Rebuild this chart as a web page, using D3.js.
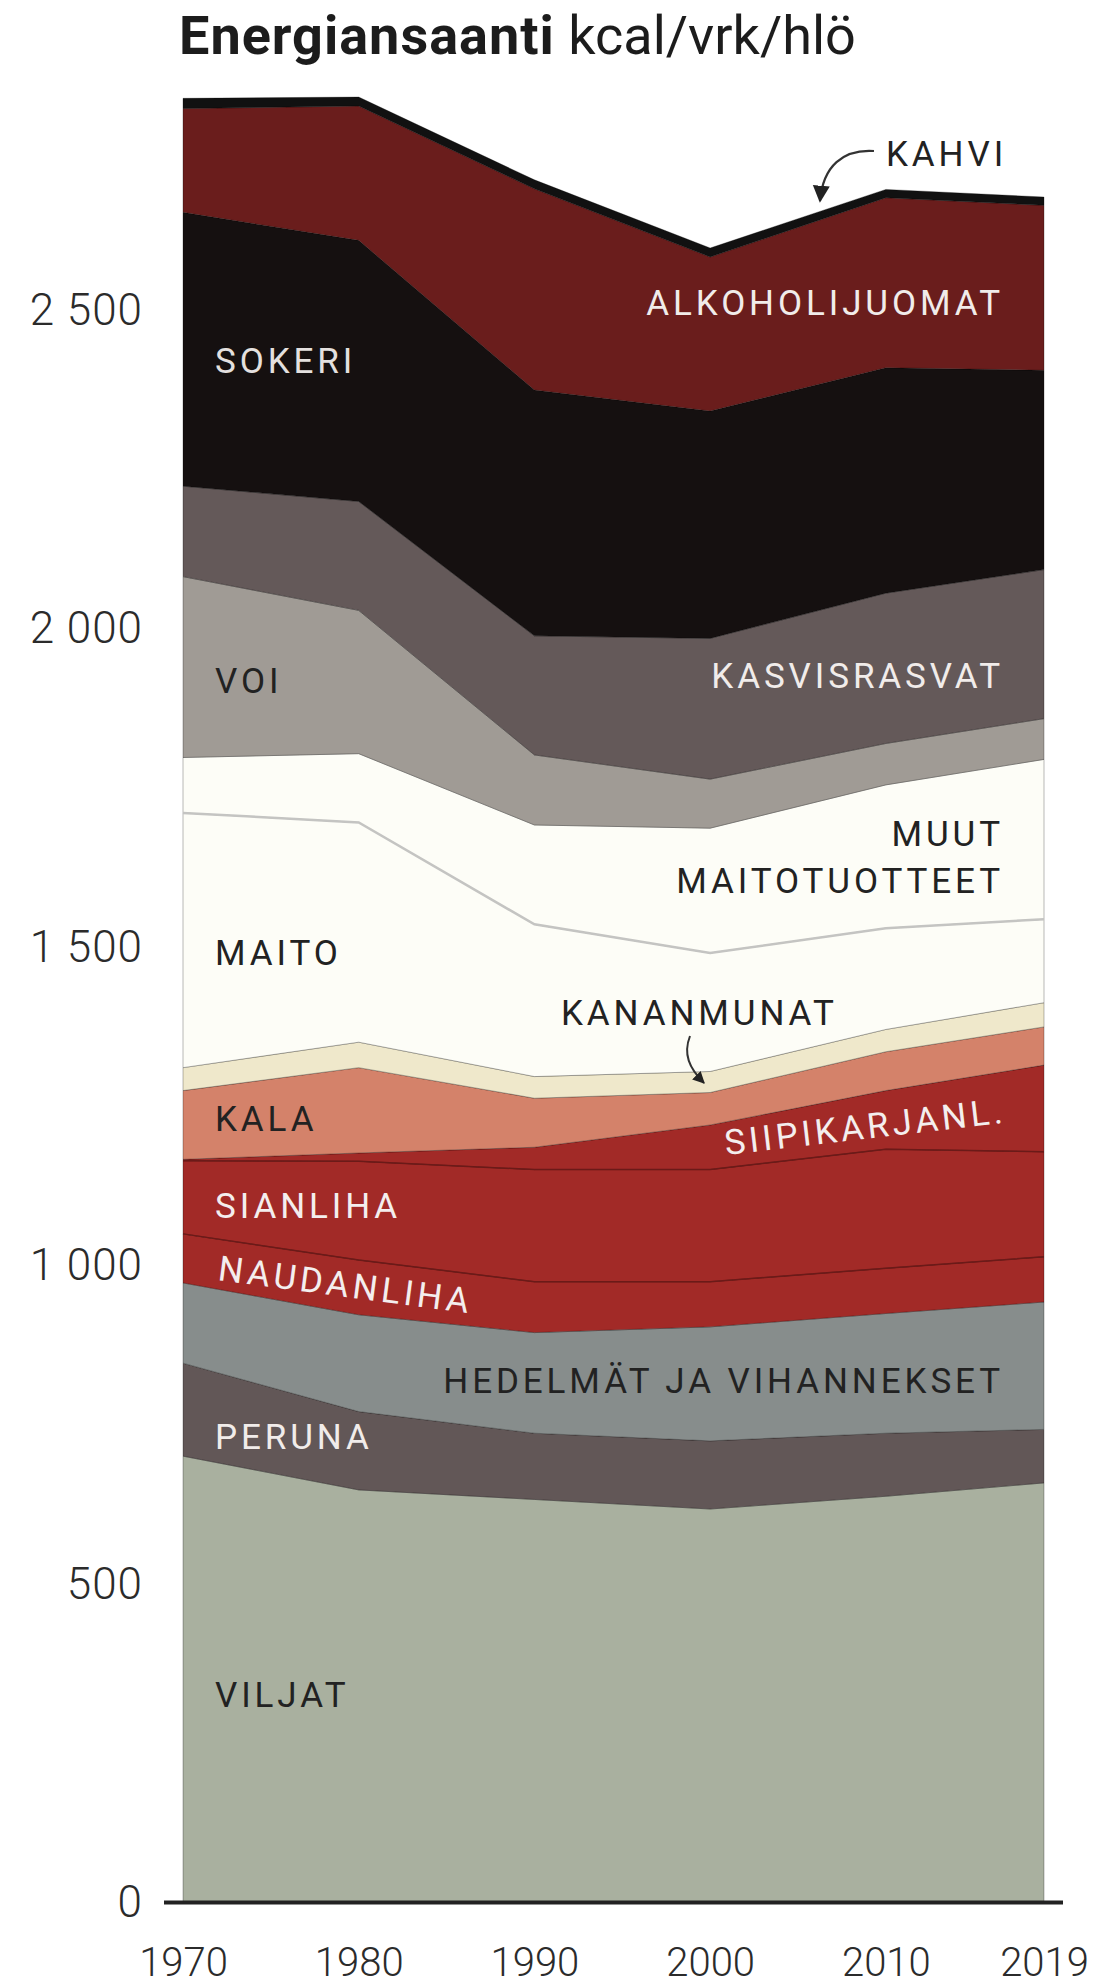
<!DOCTYPE html>
<html>
<head>
<meta charset="utf-8">
<script src="https://cdnjs.cloudflare.com/ajax/libs/d3/7.8.5/d3.min.js"></script>
<style>
body { margin: 0; background: #fff; }
svg { display: block; font-family: Roboto, "Noto Sans", sans-serif; }
.lbl { font-size: 35px; letter-spacing: 3.9px; }
.tick text { font-family: Roboto, sans-serif; }
</style>
</head>
<body>
<svg width="1097" height="1986"></svg>
<script>
// kcal / vrk / hlö, luettu kuvasta
var years = [1970, 1980, 1990, 2000, 2010, 2019];
var viljat       = [701, 648, 633, 618, 638, 659];
var peruna       = [146, 123, 104, 107, 99, 84];
var hedelmat     = [126, 152, 158, 179, 188, 200];
var naudanliha   = [77, 86, 80, 71, 71, 71];
var sianliha     = [115, 155, 176, 176, 187, 165];
var siipikarja   = [2, 13, 35, 70, 92, 136];
var kala         = [108, 134, 77, 51, 61, 60];
var kananmunat   = [36, 40, 34, 33, 35, 38];
var maito        = [400, 345, 239, 186, 159, 131];
var muutMaito    = [87, 108, 156, 196, 225, 251];
var voi          = [284, 225, 110, 77, 65, 64];
var kasvisrasvat = [142, 171, 187, 221, 236, 234];
var sokeri       = [430, 410, 386, 357, 354, 313];
var alkoholi     = [163, 211, 316, 242, 267, 259];
var kahvi        = [16, 14, 14, 14, 13, 13];

var yTicks = [0, 500, 1000, 1500, 2000, 2500];

var keys = ["viljat", "peruna", "hedelmat", "naudanliha", "sianliha", "siipikarja",
    "kala", "kananmunat", "maito", "muutMaito", "voi", "kasvisrasvat", "sokeri", "alkoholi", "kahvi"];
var series = {
    viljat: viljat, peruna: peruna, hedelmat: hedelmat, naudanliha: naudanliha,
    sianliha: sianliha, siipikarja: siipikarja, kala: kala, kananmunat: kananmunat,
    maito: maito, muutMaito: muutMaito, voi: voi, kasvisrasvat: kasvisrasvat,
    sokeri: sokeri, alkoholi: alkoholi, kahvi: kahvi
};
var colors = {
    viljat: "#a9b09f", peruna: "#625757", hedelmat: "#878d8c", naudanliha: "#a22a27",
    sianliha: "#a22a27", siipikarja: "#a22a27", kala: "#d4826a", kananmunat: "#efe8cb",
    maito: "#fdfdf7", muutMaito: "#fdfdf7", voi: "#a09b95", kasvisrasvat: "#645959",
    sokeri: "#151010", alkoholi: "#6a1d1c", kahvi: "#111111"
};

var svg = d3.select("svg"),
    width = +svg.attr("width"),
    height = +svg.attr("height");

var x = d3.scaleLinear().domain([1970, 2019]).range([183, 1044]);
var y = d3.scaleLinear().domain([0, 2500]).range([1902.6, 310.4]);

var table = years.map(function (yr, i) {
    var row = { year: yr };
    keys.forEach(function (k) { row[k] = series[k][i]; });
    return row;
});

var layers = d3.stack().keys(keys)(table);

var area = d3.area()
    .x(function (d) { return x(d.data.year); })
    .y0(function (d) { return y(d[0]); })
    .y1(function (d) { return y(d[1]); });

var lower = d3.line()
    .x(function (d) { return x(d.data.year); })
    .y(function (d) { return y(d[0]); });

svg.append("g")
    .selectAll("path")
    .data(layers)
    .enter().append("path")
    .attr("d", area)
    .attr("fill", function (d) { return colors[d.key]; })
    .attr("stroke", "rgba(0,0,0,0.28)")
    .attr("stroke-width", 1);

// erotinviivat lihojen välissä ja maidon päällä
var byKey = {};
layers.forEach(function (l) { byKey[l.key] = l; });

svg.append("path").attr("d", lower(byKey.sianliha))
    .attr("fill", "none").attr("stroke", "#6b1a18").attr("stroke-width", 1.5);
svg.append("path").attr("d", lower(byKey.siipikarja))
    .attr("fill", "none").attr("stroke", "#6b1a18").attr("stroke-width", 1.5);
svg.append("path").attr("d", lower(byKey.muutMaito))
    .attr("fill", "none").attr("stroke", "#c4c4c2").attr("stroke-width", 2.5);

// y-akseli
var fmt = d3.formatLocale({ decimal: ",", thousands: " ", grouping: [3], currency: ["", "€"] }).format(",d");

var yAxis = svg.append("g")
    .attr("transform", "translate(" + x(1970) + ",0)")
    .call(d3.axisLeft(y).tickValues(yTicks).tickSize(0).tickPadding(40).tickFormat(fmt));
yAxis.select(".domain").remove();
yAxis.selectAll("text")
    .attr("font-size", 44)
    .attr("font-weight", 300)
    .attr("letter-spacing", "1px")
    .attr("fill", "#2b2b2b");

// x-akseli
var xAxis = svg.append("g")
    .attr("transform", "translate(0," + y(0) + ")")
    .call(d3.axisBottom(x).tickValues(years).tickSize(0).tickPadding(45).tickFormat(d3.format("d")));
xAxis.select(".domain").remove();
xAxis.selectAll("text")
    .attr("font-size", 40)
    .attr("font-weight", 300)
    .attr("fill", "#2b2b2b");

svg.append("line")
    .attr("x1", x(1970) - 19).attr("x2", x(2019) + 19)
    .attr("y1", y(0)).attr("y2", y(0))
    .attr("stroke", "#222").attr("stroke-width", 4);

// otsikko
var title = svg.append("text")
    .attr("x", 179).attr("y", 54)
    .attr("font-size", 54)
    .attr("fill", "#1c1c1c");
title.append("tspan").attr("font-weight", 700).attr("letter-spacing", "1px").text("Energiansaanti");
title.append("tspan").attr("font-weight", 400).text(" kcal/vrk/hlö");

// nimiöt
var labels = [
    { t: "SOKERI", x: 215, y: 373, c: "#e4e0df" },
    { t: "ALKOHOLIJUOMAT", x: 1004, y: 315, c: "#f1ecea", end: true },
    { t: "VOI", x: 215, y: 693, c: "#222" },
    { t: "KASVISRASVAT", x: 1004, y: 688, c: "#f1ecea", end: true },
    { t: "MUUT", x: 1004, y: 846, c: "#222", end: true },
    { t: "MAITOTUOTTEET", x: 1004, y: 893, c: "#222", end: true },
    { t: "MAITO", x: 215, y: 965, c: "#222" },
    { t: "KANANMUNAT", x: 561, y: 1025, c: "#222" },
    { t: "KALA", x: 215, y: 1131, c: "#222" },
    { t: "SIANLIHA", x: 215, y: 1218, c: "#f4eeee" },
    { t: "NAUDANLIHA", x: 217, y: 1280, c: "#f4eeee", rot: 7.5 },
    { t: "SIIPIKARJANL.", x: 726, y: 1155, c: "#f4eeee", rot: -6.6 },
    { t: "HEDELMÄT JA VIHANNEKSET", x: 1004, y: 1393, c: "#222", end: true },
    { t: "PERUNA", x: 215, y: 1449, c: "#f1ecea" },
    { t: "VILJAT", x: 215, y: 1707, c: "#222" },
    { t: "KAHVI", x: 886, y: 166, c: "#222" }
];

svg.append("g")
    .selectAll("text")
    .data(labels)
    .enter().append("text")
    .attr("class", "lbl")
    .attr("x", function (d) { return d.x; })
    .attr("y", function (d) { return d.y; })
    .attr("text-anchor", function (d) { return d.end ? "end" : "start"; })
    .attr("transform", function (d) { return d.rot ? "rotate(" + d.rot + "," + d.x + "," + d.y + ")" : null; })
    .attr("fill", function (d) { return d.c; })
    .text(function (d) { return d.t; });

// nuolet
var defs = svg.append("defs");
defs.append("marker")
    .attr("id", "head").attr("viewBox", "0 0 10 10")
    .attr("refX", 9).attr("refY", 5)
    .attr("markerUnits", "userSpaceOnUse")
    .attr("markerWidth", 17).attr("markerHeight", 18)
    .attr("orient", "auto")
    .append("path").attr("d", "M0,0 L10,5 L0,10 z").attr("fill", "#222");
defs.append("marker")
    .attr("id", "headS").attr("viewBox", "0 0 10 10")
    .attr("refX", 9).attr("refY", 5)
    .attr("markerUnits", "userSpaceOnUse")
    .attr("markerWidth", 13).attr("markerHeight", 12)
    .attr("orient", "auto")
    .append("path").attr("d", "M0,0 L10,5 L0,10 z").attr("fill", "#222");

svg.append("path")
    .attr("d", "M874,151 C843,149 823,166 820,201")
    .attr("fill", "none").attr("stroke", "#333").attr("stroke-width", 2.2)
    .attr("marker-end", "url(#head)");

svg.append("path")
    .attr("d", "M690,1036 C683,1054 689,1068 704,1083")
    .attr("fill", "none").attr("stroke", "#333").attr("stroke-width", 2)
    .attr("marker-end", "url(#headS)");
</script>
</body>
</html>
